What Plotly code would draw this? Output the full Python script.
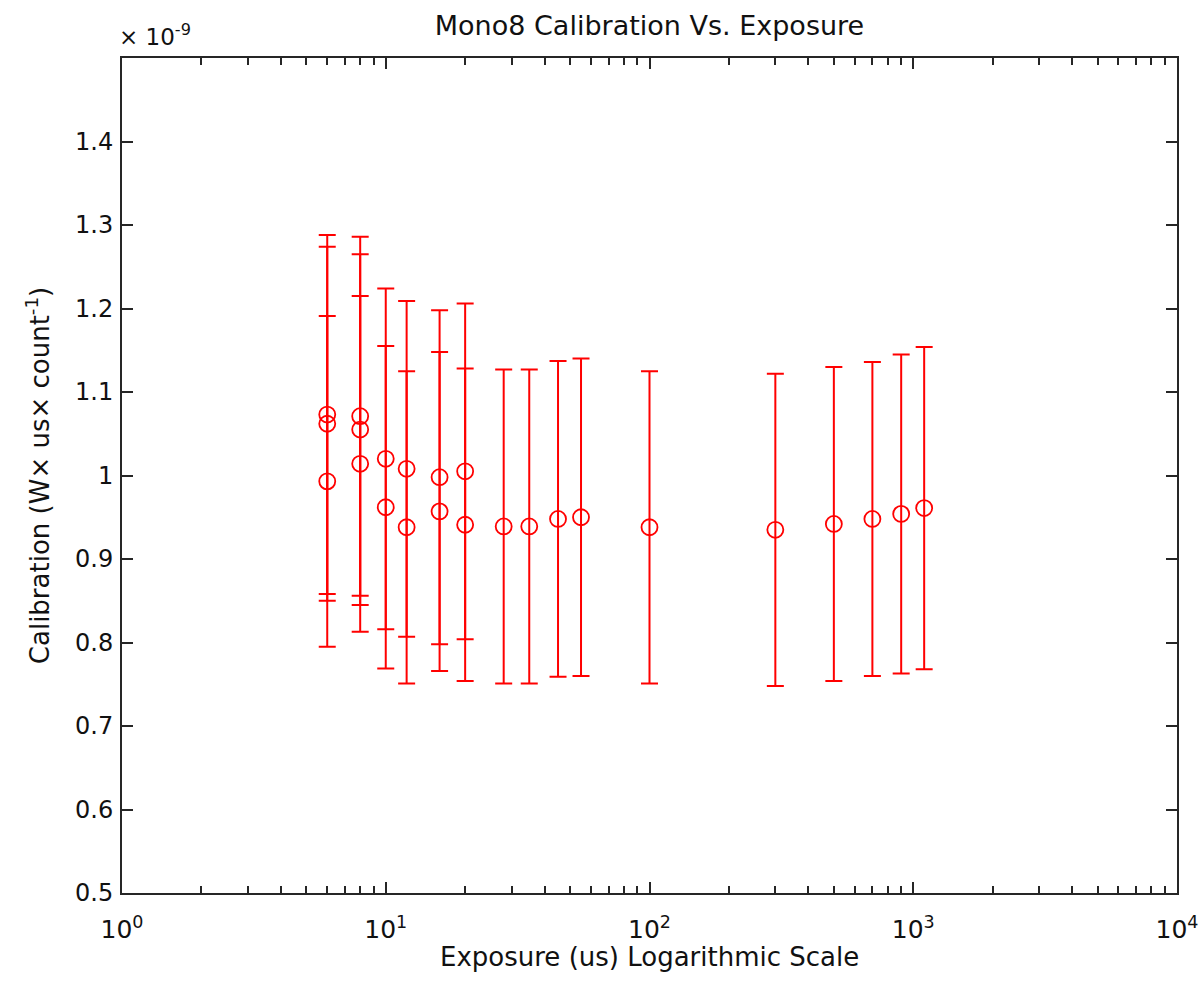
import plotly.graph_objects as go

# Exposure (us)
exposure = [6, 6, 6, 8, 8, 8, 10, 10, 12, 12, 16, 16, 20, 20,
            28, 35, 45, 55, 100, 300, 500, 700, 900, 1100]
# Calibration (x 1e-9 W*us/count)
calibration = [1.073, 1.062, 0.993, 1.071, 1.055, 1.014, 1.020, 0.962,
               1.008, 0.938, 0.998, 0.957, 1.005, 0.941,
               0.939, 0.939, 0.948, 0.950, 0.938, 0.935, 0.942, 0.948, 0.954, 0.961]
# Symmetric error (x 1e-9)
error = [0.215, 0.212, 0.198, 0.215, 0.210, 0.201, 0.204, 0.193,
         0.201, 0.187, 0.200, 0.191, 0.201, 0.187,
         0.188, 0.188, 0.189, 0.190, 0.187, 0.187, 0.188, 0.188, 0.191, 0.193]

x_major = [1, 10, 100, 1000, 10000]
x_major_text = ["10<sup>0</sup>", "10<sup>1</sup>", "10<sup>2</sup>",
                "10<sup>3</sup>", "10<sup>4</sup>"]
x_minor = [m * 10 ** k for k in range(4) for m in range(2, 10)]
y_ticks = [0.5, 0.6, 0.7, 0.8, 0.9, 1.0, 1.1, 1.2, 1.3, 1.4]
y_tick_text = ["0.5", "0.6", "0.7", "0.8", "0.9", "1", "1.1", "1.2", "1.3", "1.4"]

FONT = "DejaVu Sans, Liberation Sans, Arial, sans-serif"
RED = "#ff0000"
AX = "#262626"
TXT = "#111111"

fig = go.Figure()
fig.add_trace(go.Scatter(
    x=exposure, y=calibration, mode="markers",
    marker=dict(symbol="circle-open", size=16, color=RED, line=dict(width=1.8, color=RED)),
    error_y=dict(type="data", array=error, visible=True, color=RED, thickness=2, width=8.5),
    showlegend=False,
))

fig.update_layout(
    width=1202, height=986,
    margin=dict(l=122, r=25, t=58, b=93),
    paper_bgcolor="white", plot_bgcolor="white",
    font=dict(family=FONT, size=25, color=TXT),
    title=dict(text="Mono8 Calibration Vs. Exposure", x=0.5, xref="paper",
               y=1 - 26 / 986, yanchor="middle", yref="container",
               font=dict(family=FONT, size=27, color=TXT)),
    xaxis=dict(
        type="log", range=[0, 4], showgrid=False, zeroline=False,
        showline=True, linecolor=AX, linewidth=2, mirror="ticks",
        ticks="inside", ticklen=11, tickwidth=1.5, tickcolor=AX,
        tickmode="array", tickvals=x_major, ticktext=x_major_text,
        minor=dict(tickmode="array", tickvals=x_minor, ticks="inside",
                   ticklen=7, tickwidth=1.5, tickcolor=AX, showgrid=False),
        ticklabelstandoff=13, ticklabeloverflow="allow",
        tickfont=dict(family=FONT, size=25),
        automargin=False,
    ),
    yaxis=dict(
        range=[0.5, 1.5], showgrid=False, zeroline=False,
        showline=True, linecolor=AX, linewidth=2, mirror="ticks",
        ticks="inside", ticklen=11, tickwidth=1.5, tickcolor=AX,
        tickmode="array", tickvals=y_ticks, ticktext=y_tick_text,
        ticklabelstandoff=2, ticklabeloverflow="allow",
        title=dict(text="Calibration (W\u00d7 us\u00d7 count<sup>-1</sup>)", standoff=18,
                   font=dict(family=FONT, size=26)),
        tickfont=dict(family=FONT, size=24),
        automargin=False,
    ),
)

fig.add_annotation(
    text="Exposure (us) Logarithmic Scale", xref="paper", yref="paper",
    x=0.5, y=0, xanchor="center", yanchor="top", yshift=-47,
    showarrow=False, font=dict(family=FONT, size=26, color=TXT),
)

fig.add_annotation(
    text="\u00d7 10<sup>-9</sup>", xref="paper", yref="paper",
    x=0, y=1, xanchor="left", yanchor="bottom", xshift=-5, yshift=6,
    showarrow=False, font=dict(family=FONT, size=23, color=TXT),
)

fig.write_html("out.html")
